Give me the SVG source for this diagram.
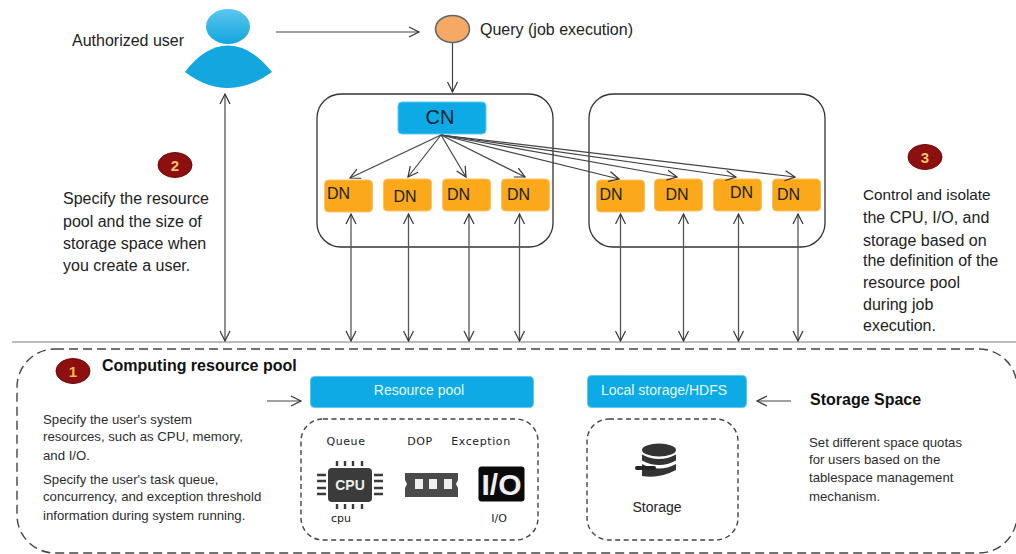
<svg xmlns="http://www.w3.org/2000/svg" width="1016" height="554" viewBox="0 0 1016 554">
<style>
text{font-family:"Liberation Sans",Arial,sans-serif;fill:#222}
.t16{font-size:16px}
.t12{font-size:13.2px;fill:#2c2c2c}
.b{font-weight:bold;fill:#111}
.c{text-anchor:middle}
.cl{fill:none;stroke:#333;stroke-width:1.3}
.ar{fill:none;stroke:#444;stroke-width:1.2;marker-end:url(#a)}
.dbl{fill:none;stroke:#555;stroke-width:1.3;marker-end:url(#a);marker-start:url(#as)}
.dn{fill:#fba81a;stroke:#fdc266;stroke-width:1}
.bl{fill:#0daae6;stroke:#5cc9f0;stroke-width:1}
.dash{fill:none;stroke:#444;stroke-width:1.4;stroke-dasharray:5 3.5}
.bad{fill:#8e0f0f;stroke:#6a0a0a}
.dnt{font-size:16px;fill:#222}
</style>
<defs>
<marker id="a" markerWidth="14" markerHeight="12" refX="11" refY="6" orient="auto" markerUnits="userSpaceOnUse"><path d="M1 1L11 6L1 11" fill="none" stroke="#333" stroke-width="1.2"/></marker>
<marker id="as" markerWidth="14" markerHeight="12" refX="3" refY="6" orient="auto" markerUnits="userSpaceOnUse"><path d="M13 1L3 6L13 11" fill="none" stroke="#333" stroke-width="1.2"/></marker>
<linearGradient id="head" x1="0" y1="0" x2="0" y2="1"><stop offset="0" stop-color="#5cc6ee"/><stop offset="1" stop-color="#12a5de"/></linearGradient>
</defs>

<line x1="12" y1="342" x2="1016" y2="342" stroke="#bcbcbc" stroke-width="2"/>

<g id="user">
<ellipse cx="228" cy="26.500" rx="22" ry="17.500" fill="url(#head)"/>
<path d="M185 72Q205 45.500 228 45.500Q251 45.500 272 72Q250 88 228 88Q206 88 185 72Z" fill="#14a6de"/>
<text class="t16" x="72" y="46">Authorized user</text>
</g>
<g id="query">
<ellipse cx="452.500" cy="29" rx="17" ry="13.500" fill="#f6a965" stroke="#5d6670" stroke-width="1.500"/>
<text class="t16" x="480" y="35">Query (job execution)</text>
</g>

<g id="cluster1"><rect x="317" y="94" width="236" height="153" rx="24" class="cl"/></g>
<g id="cluster2"><rect x="589" y="94" width="236" height="153" rx="24" class="cl"/></g>

<g id="cn"><rect x="398" y="102" width="88" height="32" rx="4" class="bl"/><text x="440" y="124" class="c" style="font-size:20px;fill:#123">CN</text></g>

<g id="dn1"><rect x="324.500" y="180" width="48" height="32" rx="4" class="dn"/><text x="327" y="199" class="dnt">DN</text></g>
<g id="dn2"><rect x="383.500" y="179" width="48" height="32" rx="4" class="dn"/><text x="393.500" y="202" class="dnt">DN</text></g>
<g id="dn3"><rect x="442.500" y="179" width="48" height="32" rx="4" class="dn"/><text x="447" y="200" class="dnt">DN</text></g>
<g id="dn4"><rect x="501.500" y="179" width="48" height="32" rx="4" class="dn"/><text x="507" y="200" class="dnt">DN</text></g>
<g id="dn5"><rect x="596.500" y="180" width="48" height="32" rx="4" class="dn"/><text x="599.500" y="200" class="dnt">DN</text></g>
<g id="dn6"><rect x="654.500" y="179" width="48" height="32" rx="4" class="dn"/><text x="665.500" y="200" class="dnt">DN</text></g>
<g id="dn7"><rect x="713.500" y="179" width="48" height="32" rx="4" class="dn"/><text x="730" y="198" class="dnt">DN</text></g>
<g id="dn8"><rect x="772.500" y="179" width="48" height="32" rx="4" class="dn"/><text x="777" y="200" class="dnt">DN</text></g>

<g id="connectors">
<line x1="276" y1="32" x2="419" y2="32" class="ar"/>
<line x1="452.500" y1="43" x2="452.500" y2="92" class="ar"/>
<line x1="441" y1="135" x2="350" y2="178" class="ar"/>
<line x1="441" y1="135" x2="408" y2="177" class="ar"/>
<line x1="441" y1="135" x2="466" y2="177" class="ar"/>
<line x1="441" y1="135" x2="525" y2="177" class="ar"/>
<line x1="441" y1="135" x2="619" y2="179" class="ar"/>
<line x1="441" y1="135" x2="677" y2="177" class="ar"/>
<line x1="441" y1="135" x2="736" y2="177" class="ar"/>
<line x1="441" y1="135" x2="795" y2="177" class="ar"/>
<line x1="225" y1="341" x2="225" y2="94" class="dbl"/>
<line x1="351" y1="341" x2="351" y2="214" class="dbl"/>
<line x1="408.500" y1="341" x2="408.500" y2="214" class="dbl"/>
<line x1="469" y1="341" x2="469" y2="214" class="dbl"/>
<line x1="519.500" y1="341" x2="519.500" y2="214" class="dbl"/>
<line x1="620.500" y1="341" x2="620.500" y2="214" class="dbl"/>
<line x1="683.500" y1="341" x2="683.500" y2="214" class="dbl"/>
<line x1="738.500" y1="341" x2="738.500" y2="214" class="dbl"/>
<line x1="798" y1="341" x2="798" y2="214" class="dbl"/>
<line x1="267" y1="401" x2="301" y2="401" class="ar"/>
<line x1="791" y1="401" x2="757" y2="401" class="ar"/>
</g>

<g id="badge2"><ellipse cx="175" cy="165" rx="17" ry="12.500" class="bad"/><text x="175" y="171" class="c b" style="font-size:15px;fill:#f5c56a">2</text></g>
<g id="note2">
<text class="t16" x="63" y="204">Specify the resource</text>
<text class="t16" x="63" y="227">pool and the size of</text>
<text class="t16" x="63" y="249">storage space when</text>
<text class="t16" x="63" y="271">you create a user.</text>
</g>
<g id="badge3"><ellipse cx="925" cy="157" rx="17" ry="12.500" class="bad"/><text x="925" y="163" class="c b" style="font-size:15px;fill:#f5c56a">3</text></g>
<g id="note3">
<text x="863" y="200" style="font-size:15.300px">Control and isolate</text>
<text class="t16" x="863" y="223">the CPU, I/O, and</text>
<text class="t16" x="863" y="246">storage based on</text>
<text class="t16" x="863" y="266">the definition of the</text>
<text class="t16" x="863" y="288">resource pool</text>
<text class="t16" x="863" y="310">during job</text>
<text class="t16" x="863" y="331">execution.</text>
</g>

<g id="panel"><rect x="17" y="349" width="1000" height="204" rx="38" class="dash" style="stroke-dasharray:9 5"/></g>
<g id="badge1"><ellipse cx="73" cy="371" rx="17" ry="12.500" class="bad"/><text x="73" y="377" class="c b" style="font-size:15px;fill:#f5b84a">1</text></g>
<g id="computing">
<text x="102" y="371" class="b" style="font-size:16px">Computing resource pool</text>
<text class="t12" x="43" y="424">Specify the user's system</text>
<text class="t12" x="43" y="441">resources, such as CPU, memory,</text>
<text class="t12" x="43" y="460">and I/O.</text>
<text class="t12" x="43" y="484">Specify the user's task queue,</text>
<text class="t12" x="43" y="501">concurrency, and exception threshold</text>
<text class="t12" x="43" y="520">information during system running.</text>
</g>
<g id="resource-pool"><rect x="310.500" y="376.500" width="223" height="31" rx="4" class="bl"/><text x="419" y="395" class="c" style="font-size:14px;fill:#e4f6fd">Resource pool</text></g>
<g id="resources">
<rect x="301" y="419" width="237" height="121" rx="22" class="dash"/>
<text x="346" y="445" class="c" style="font-family:'DejaVu Sans',sans-serif;font-size:11px;letter-spacing:.6px">Queue</text>
<text x="420" y="445" class="c" style="font-family:'DejaVu Sans',sans-serif;font-size:11px;letter-spacing:.6px">DOP</text>
<text x="481" y="445" class="c" style="font-family:'DejaVu Sans',sans-serif;font-size:11px;letter-spacing:.6px">Exception</text>
<rect x="328" y="468" width="44" height="34" rx="4" fill="#3b3b3b"/>
<path d="M337 466v-5M345 466v-5M353 466v-5M362 466v-5M337 509v-5M345 509v-5M353 509v-5M362 509v-5M317 475h9M317 481h9M317 488h9M317 494h9M374 475h9M374 481h9M374 488h9M374 494h9" stroke="#3b3b3b" stroke-width="2.400" fill="none"/>
<text x="350" y="490" class="c b" style="font-size:14px;fill:#eee">CPU</text>
<path d="M405 473h53v7l-2 4 2 4v9h-53v-9l2-4-2-4z" fill="#4a4a4a"/>
<rect x="415" y="479" width="8" height="10" fill="#eee"/><rect x="429" y="479" width="8" height="10" fill="#eee"/><rect x="444" y="479" width="8" height="10" fill="#eee"/>
<rect x="478.500" y="466.500" width="46" height="35" rx="3" fill="#0a0a0a"/>
<text x="501.500" y="495" class="c" style="font-size:30px;font-weight:bold;fill:#eee">I/O</text>
<text x="341" y="522" class="c" style="font-family:'DejaVu Sans',sans-serif;font-size:11px">cpu</text>
<text x="499" y="522" class="c" style="font-family:'DejaVu Sans',sans-serif;font-size:11px">I/O</text>
</g>
<g id="local-storage"><rect x="587.500" y="375.500" width="159" height="32" rx="4" class="bl"/><text x="664" y="395" class="c" style="font-size:14px;fill:#e4f6fd">Local storage/HDFS</text></g>
<g id="storage">
<rect x="587" y="419" width="151" height="121" rx="22" class="dash"/>
<ellipse cx="659" cy="450" rx="17" ry="6.500" fill="#333"/>
<path d="M642 454.500q17 9 34 0v6q-17 9-34 0z" fill="#333"/>
<path d="M642 464q17 9 34 0v6q-17 9-34 6z" fill="#333"/>
<rect x="635" y="466" width="21" height="4" rx="2" fill="#222"/>
<text x="657" y="512" class="c" style="font-size:14px">Storage</text>
</g>
<g id="space">
<text x="810" y="405" class="b" style="font-size:16px">Storage Space</text>
<text class="t12" x="809" y="447">Set different space quotas</text>
<text class="t12" x="809" y="464">for users based on the</text>
<text class="t12" x="809" y="482">tablespace management</text>
<text class="t12" x="809" y="501">mechanism.</text>
</g>
</svg>
